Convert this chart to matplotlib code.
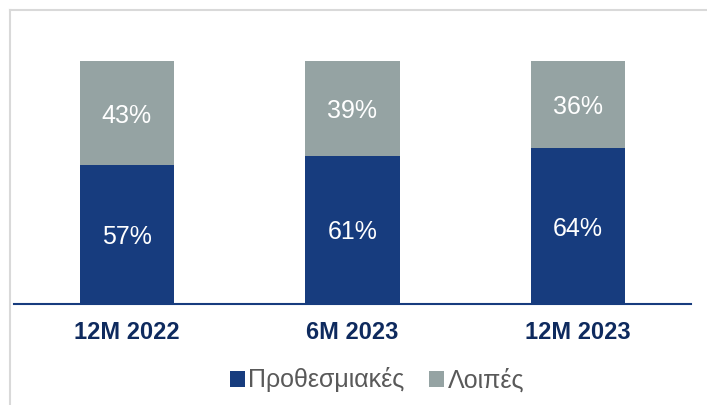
import matplotlib
matplotlib.use("Agg")
import matplotlib.pyplot as plt
from matplotlib.patches import Patch
from matplotlib.lines import Line2D

categories = ["12M 2022", "6M 2023", "12M 2023"]
prothesmiakes = [57, 61, 64]
loipes = [43, 39, 36]
series_names = ["Προθεσμιακές", "Λοιπές"]

navy = "#173C7E"
grey = "#95A3A3"
label_color = "#0E2A5E"

plt.rcParams['font.family'] = ['Liberation Sans', 'DejaVu Sans']

fig = plt.figure(figsize=(7.07, 4.05), dpi=100)
ax = fig.add_axes([14/707, 101/405, 677/707, 243/405])

x = list(range(len(categories)))
bottom_vals = [v/100 for v in prothesmiakes]
top_vals = [v/100 for v in loipes]
ax.bar(x, bottom_vals, width=0.417, color=navy, zorder=2)
ax.bar(x, top_vals, bottom=bottom_vals, width=0.417, color=grey, zorder=2)

for i in x:
    ax.text(i, bottom_vals[i]/2, f"{prothesmiakes[i]}%", ha='center', va='center_baseline',
            color='white', fontsize=18)
    ax.text(i, bottom_vals[i] + top_vals[i]/2, f"{loipes[i]}%", ha='center', va='center_baseline',
            color='white', fontsize=18)

ax.set_xlim(-0.5, 2.5)
ax.set_ylim(0, 1)
ax.set_yticks([])
ax.set_xticks(x)
ax.set_xticklabels(categories, fontsize=17, fontweight='bold', color=label_color)
ax.tick_params(axis='x', length=0, pad=12)
for s in ['top', 'right', 'left']:
    ax.spines[s].set_visible(False)
ax.spines['bottom'].set_color(navy)
ax.spines['bottom'].set_linewidth(1.5)
ax.spines['bottom'].set_zorder(3)

handles = [Patch(facecolor=navy, edgecolor='none'), Patch(facecolor=grey, edgecolor='none')]
fig.legend(handles, series_names, loc='center', bbox_to_anchor=(377/707, 1 - 380/405),
           ncol=2, frameon=False, fontsize=18, labelcolor='#595959',
           handlelength=0.6, handleheight=0.6, handletextpad=0.12, columnspacing=1.0)

# frame lines (top and left)
fig.add_artist(Line2D([10/707, 1], [1 - 10/405, 1 - 10/405], color='#D9D9D9', lw=1.5,
                      transform=fig.transFigure))
fig.add_artist(Line2D([10/707, 10/707], [0, 1 - 10/405], color='#D9D9D9', lw=1.5,
                      transform=fig.transFigure))

fig.savefig("out.png", dpi=100)
